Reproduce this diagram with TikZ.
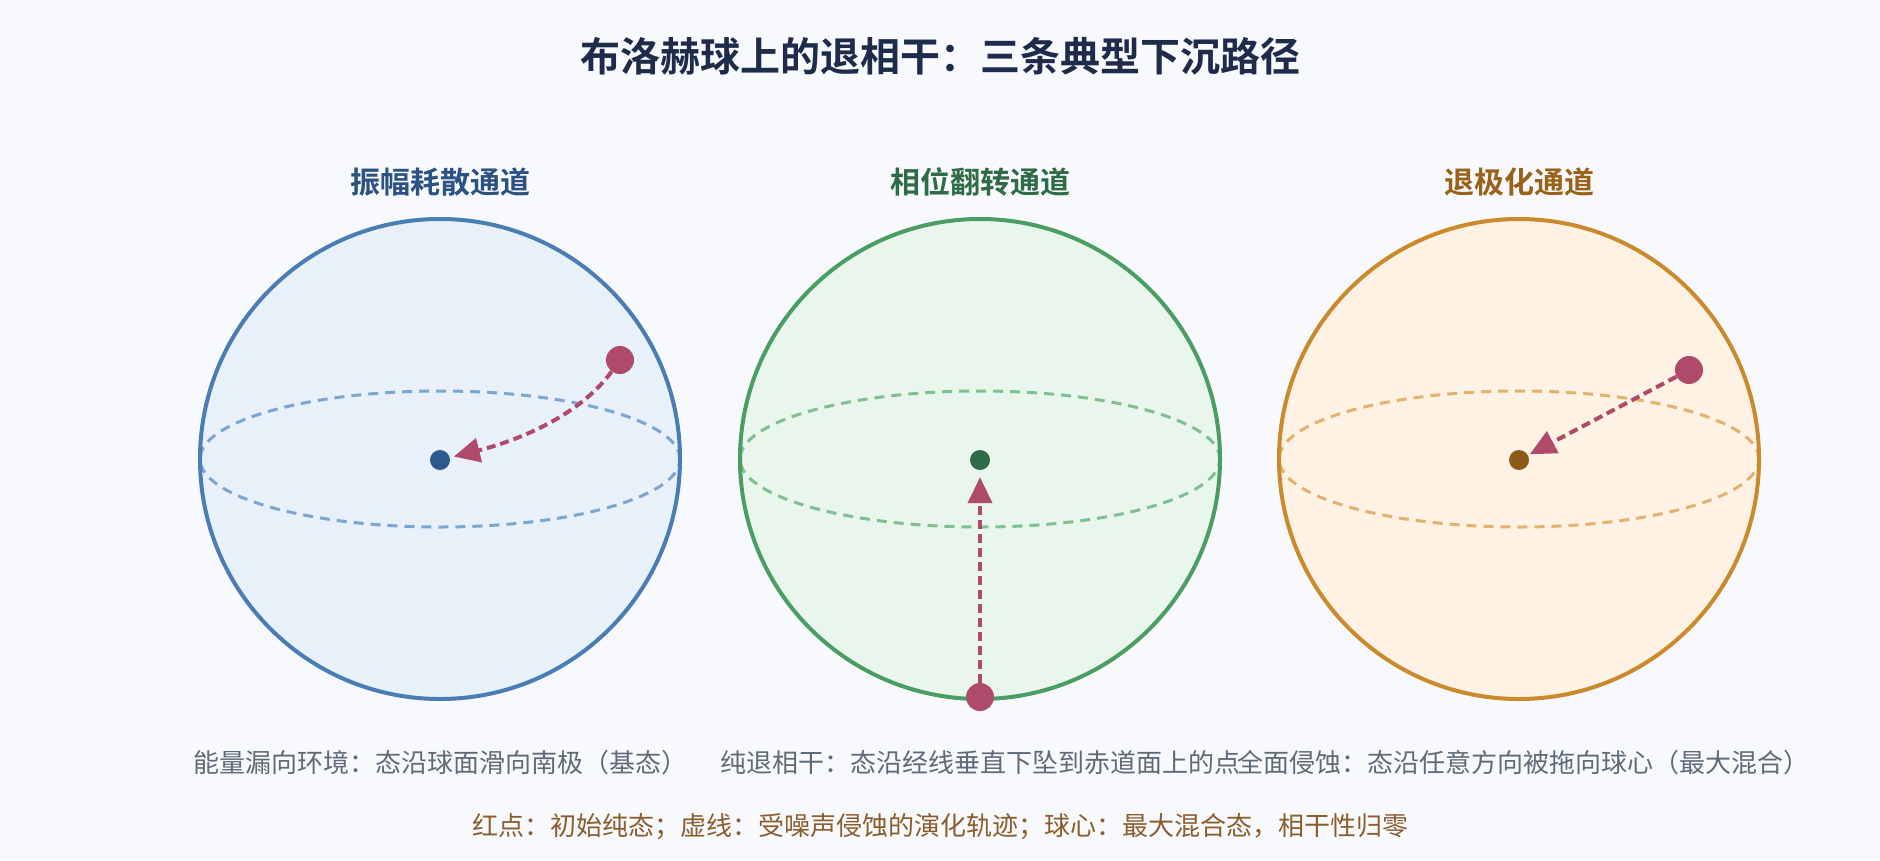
\documentclass[tikz,border=0pt]{standalone}
\usepackage{fontspec}
\newfontfamily\cjk{Noto Sans CJK SC}[BoldFont={Noto Sans CJK SC Bold}]
\usetikzlibrary{arrows.meta}
\definecolor{bgc}{HTML}{F7F9FC}
\definecolor{titlec}{HTML}{1E2B4A}
\definecolor{redc}{HTML}{B04A6A}
\definecolor{capc}{HTML}{5F6B7A}
\definecolor{legc}{HTML}{8B5E2E}
\definecolor{bstroke}{HTML}{4A7DB4}\definecolor{bfill}{HTML}{E8F0FA}\definecolor{beq}{HTML}{7BA6D2}\definecolor{bdot}{HTML}{2B5A8C}\definecolor{btxt}{HTML}{2C5282}
\definecolor{gstroke}{HTML}{4A9E64}\definecolor{gfill}{HTML}{E8F6EC}\definecolor{geq}{HTML}{80BF92}\definecolor{gdot}{HTML}{2F6B47}\definecolor{gtxt}{HTML}{2F6B45}
\definecolor{ostroke}{HTML}{CC8A2F}\definecolor{ofill}{HTML}{FDF2E3}\definecolor{oeq}{HTML}{E2B26E}\definecolor{odot}{HTML}{8C5A1A}\definecolor{otxt}{HTML}{9A6218}
\tikzset{
  sphere/.style={draw=#1, line width=4pt},
  equator/.style={draw=#1, line width=3pt, dash pattern=on 10pt off 7pt},
  cdot/.style={circle, fill=#1, inner sep=0pt, minimum size=20pt},
  rdot/.style={circle, fill=redc, inner sep=0pt, minimum size=28pt},
  traj/.style={draw=redc, line width=4pt, dash pattern=on 9pt off 5pt, -{Triangle[length=26pt,width=24pt]}},
  titletxt/.style={font=\cjk\bfseries\fontsize{40}{48}\selectfont, text=titlec, inner sep=0pt},
  subtxt/.style={font=\cjk\bfseries\fontsize{30}{36}\selectfont, text=#1, inner sep=0pt},
  captxt/.style={font=\cjk\fontsize{26}{31}\selectfont, text=capc, inner sep=0pt},
  legtxt/.style={font=\cjk\fontsize{26}{31}\selectfont, text=legc, inner sep=0pt},
}
\begin{document}
\begin{tikzpicture}[x=1pt,y=-1pt]
\fill[bgc] (0,0) rectangle (1880,860);
\useasboundingbox (0,0) rectangle (1880,860);

\node[titletxt] (title) at (940,56) {布洛赫球上的退相干：三条典型下沉路径};

% Left sphere
\fill[bfill] (440,459) circle (240pt);
\draw[equator=beq] (440,459) ellipse (240pt and 68pt);
\draw[sphere=bstroke] (440,459) circle (240pt);
\node[subtxt=btxt] (t1) at (440,182) {振幅耗散通道};
\node[cdot=bdot] (c1) at (440,460) {};
\node[rdot] (r1) at (620,360) {};
\draw[traj, shorten >=4pt] (r1) .. controls (580,415) and (520,440) .. (c1);

% Middle sphere
\fill[gfill] (980,459) circle (240pt);
\draw[equator=geq] (980,459) ellipse (240pt and 68pt);
\draw[sphere=gstroke] (980,459) circle (240pt);
\node[subtxt=gtxt] (t2) at (980,182) {相位翻转通道};
\node[cdot=gdot] (c2) at (980,460) {};
\node[rdot] (r2) at (980,697) {};
\draw[traj, shorten >=7pt] (r2) -- (c2);

% Right sphere
\fill[ofill] (1519,459) circle (240pt);
\draw[equator=oeq] (1519,459) ellipse (240pt and 68pt);
\draw[sphere=ostroke] (1519,459) circle (240pt);
\node[subtxt=otxt] (t3) at (1519,182) {退极化通道};
\node[cdot=odot] (c3) at (1519,460) {};
\node[rdot] (r3) at (1689,370) {};
\draw[traj, shorten >=2pt] (r3) -- (c3);

% Captions
\node[captxt] (cap1) at (440,763) {能量漏向环境：态沿球面滑向南极（基态）};
\node[captxt] (cap2) at (980,763) {纯退相干：态沿经线垂直下坠到赤道面上的点};
\node[captxt, anchor=east] (cap3) at (1810,763) {全面侵蚀：态沿任意方向被拖向球心（最大混合）};

\node[legtxt] (leg) at (940,827) {红点：初始纯态；虚线：受噪声侵蚀的演化轨迹；球心：最大混合态，相干性归零};
\end{tikzpicture}
\end{document}
